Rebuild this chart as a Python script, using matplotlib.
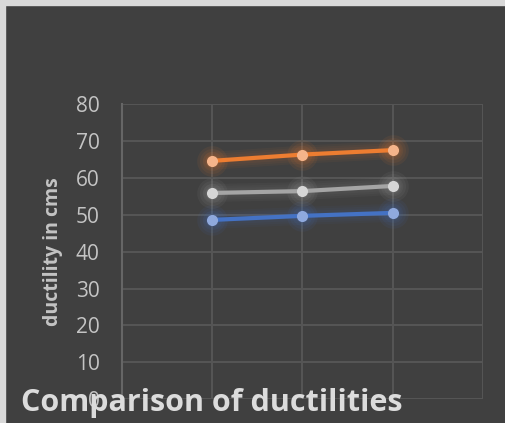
import numpy as numpy
import matplotlib.pyplot as plt
from matplotlib.patches import Rectangle

# ductility readings (cm) for the three trials of each series
trials = [1, 2, 3]
orange_vals = [64.6, 66.3, 67.5]
grey_vals = [55.9, 56.4, 57.8]
blue_vals = [48.6, 49.7, 50.5]

yticks = [0, 10, 20, 30, 40, 50, 60, 70, 80]

bg = "#404040"
grid = "#565656"
txt = "#c4c4c4"

series = [
    ( blue_vals, "#4472c4", "#8fa9dd" ),
    ( grey_vals, "#a5a5a5", "#d6d6d6" ),
    ( orange_vals, "#ed7d31", "#f5b48a" ),
]

fig = plt.figure( figsize=( 5.06, 4.23 ), dpi=100, facecolor=bg )
ax = fig.add_axes( [122 / 506, 23.7 / 423, 361 / 506, 295.3 / 423] )
ax.set_facecolor( bg )

# light frame on the top and left edge
fig.patches.append( Rectangle( ( 0, 0 ), 5 / 506, 1, transform=fig.transFigure,
                               color="#d9d9d9", zorder=0 ) )
fig.patches.append( Rectangle( ( 0, 1 - 5 / 423 ), 1, 5 / 423, transform=fig.transFigure,
                               color="#d9d9d9", zorder=0 ) )

ax.set_xlim( 0, 4 )
ax.set_ylim( 0, 80 )
ax.set_xticks( [0, 1, 2, 3, 4] )
ax.set_yticks( yticks )
ax.grid( True, color=grid, linewidth=1.4 )
ax.set_axisbelow( True )
for side in ["top", "right", "bottom"] :
    ax.spines[side].set_visible( False )
ax.spines["left"].set_color( "#666666" )
ax.spines["left"].set_linewidth( 1.5 )

ax.tick_params( axis="x", length=0, labelbottom=False )
ax.tick_params( axis="y", length=0, pad=16, labelsize=15, labelcolor=txt )
for lab in ax.get_yticklabels() :
    lab.set_fontfamily( "Open Sans" )

for vals, line, face in series :
    # soft glow behind line and markers
    for k in range( 4 ) :
        ax.plot( trials, vals, '-', color=line, lw=4 + 3 * k, alpha=0.05,
                 solid_capstyle="round" )
        ax.plot( trials, vals, 'o', color=line, ms=10 + 4 * k, alpha=0.08, mew=0 )
    ax.plot( trials, vals, '-', color=line, lw=3, solid_capstyle="round" )
    ax.plot( trials, vals, 'o', color=face, ms=8, mew=0 )

fig.text( 53 / 506, 1 - 252 / 423, "ductility in cms", rotation=90, ha="center",
          va="center", fontsize=14, fontweight="bold", color=txt, family="Open Sans" )
fig.text( 21 / 506, 1 - 411 / 423, "Comparison of ductilities", ha="left",
          va="baseline", fontsize=22, fontweight="bold", color="#dcdcdc",
          family="Open Sans" )

fig.savefig( "out.png", dpi=100, facecolor=bg )
